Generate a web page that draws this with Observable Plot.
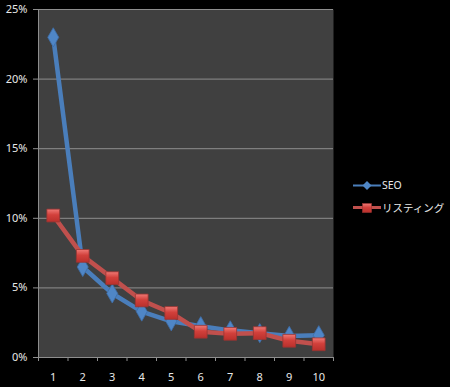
<!DOCTYPE html>
<html><head><meta charset="utf-8">
<script src="https://cdn.jsdelivr.net/npm/d3@7"></script>
<script src="https://cdn.jsdelivr.net/npm/@observablehq/plot@0.6"></script>
<style>
body{margin:0;background:#000;}
#wrap{position:relative;width:450px;height:387px;background:#000;font-family:"Noto Sans","Noto Sans CJK JP",sans-serif;}
#legend{position:absolute;left:353px;top:174px;color:#e8e8e8;font-size:10.5px;}
.item{display:flex;align-items:center;height:22px;}
.item svg{display:block;margin-right:1px;}
</style></head><body><div id="wrap"></div>
<script>
const ranks = [1,2,3,4,5,6,7,8,9,10];
const seo = [23.0,6.5,4.6,3.3,2.6,2.25,1.95,1.75,1.55,1.6];
const listing = [10.2,7.3,5.7,4.1,3.2,1.85,1.7,1.75,1.2,0.95];
const yTicks = [0,5,10,15,20,25];
const seriesNames = ["SEO","リスティング"];
const colors = {line:["#4a7ebb","#c0504d"], marker:["#4f86c6","url(#redg)"]};

const seoData = ranks.map((r,i)=>({rank:r, value:seo[i]}));
const listData = ranks.map((r,i)=>({rank:r, value:listing[i]}));
const bounds = ranks.map(r=>r-0.5).concat([ranks[ranks.length-1]+0.5]);

const chart = Plot.plot({
  width:450, height:387,
  marginLeft:38, marginRight:117, marginTop:9, marginBottom:30,
  style:{background:"#000", color:"#e8e8e8", fontSize:"11px", fontFamily:"'Noto Sans','Noto Sans CJK JP',sans-serif"},
  x:{domain:[bounds[0], bounds[bounds.length-1]]},
  y:{domain:[0,25]},
  marks:[
    Plot.frame({fill:"#404040", stroke:null}),
    Plot.ruleY(yTicks, {stroke:"#8e8e8e", strokeWidth:1}),
    Plot.ruleX([bounds[0]], {stroke:"#8e8e8e", strokeWidth:1}),
    Plot.axisY({ticks:yTicks, tickSize:5, tickPadding:6, tickFormat:d=>d+"%", stroke:"#8e8e8e", label:null, fontSize:11}),
    Plot.axisX({ticks:bounds, tickSize:4, tickFormat:()=>"", stroke:"#8e8e8e", label:null}),
    Plot.axisX({ticks:ranks, tickSize:0, tickPadding:16, tickFormat:d=>String(d), label:null, fontSize:11}),
    Plot.line(seoData, {x:"rank", y:"value", stroke:colors.line[0], strokeWidth:4.5}),
    Plot.dot(seoData, {x:"rank", y:"value", symbol:"diamond", r:5.8, fill:colors.marker[0], stroke:"#3d6da8", strokeWidth:0.8}),
    Plot.line(listData, {x:"rank", y:"value", stroke:colors.line[1], strokeWidth:4.5}),
    Plot.dot(listData, {x:"rank", y:"value", symbol:"square", r:7.2, fill:colors.marker[1], stroke:"#9b3532", strokeWidth:0.8})
  ]
});

const ns="http://www.w3.org/2000/svg";
const defs=document.createElementNS(ns,"defs");
defs.innerHTML='<linearGradient id="redg" x1="0" y1="0" x2="0" y2="1"><stop offset="0" stop-color="#f07a76"/><stop offset="0.45" stop-color="#d2403b"/><stop offset="1" stop-color="#b9302c"/></linearGradient>';
chart.insertBefore(defs, chart.firstChild);

const wrap=document.getElementById("wrap");
wrap.appendChild(chart);

const legend=document.createElement("div");
legend.id="legend";
seriesNames.forEach((name,i)=>{
  const item=document.createElement("div");
  item.className="item";
  const marker = i===0
    ? '<path d="M14 2 L18.5 6.5 L14 11 L9.5 6.5 Z" fill="#4f86c6"/>'
    : '<rect x="9.5" y="2.5" width="9" height="9" fill="url(#redg2)" stroke="#9b3532" stroke-width="0.6"/>';
  item.innerHTML='<svg width="28" height="13"><defs><linearGradient id="redg2" x1="0" y1="0" x2="0" y2="1"><stop offset="0" stop-color="#f07a76"/><stop offset="0.45" stop-color="#d2403b"/><stop offset="1" stop-color="#b9302c"/></linearGradient></defs><line x1="0" y1="6.5" x2="28" y2="6.5" stroke="'+colors.line[i]+'" stroke-width="'+(i===0?2:3)+'"/>'+marker+'</svg><span>'+name+'</span>';
  legend.appendChild(item);
});
wrap.appendChild(legend);
</script></body></html>
